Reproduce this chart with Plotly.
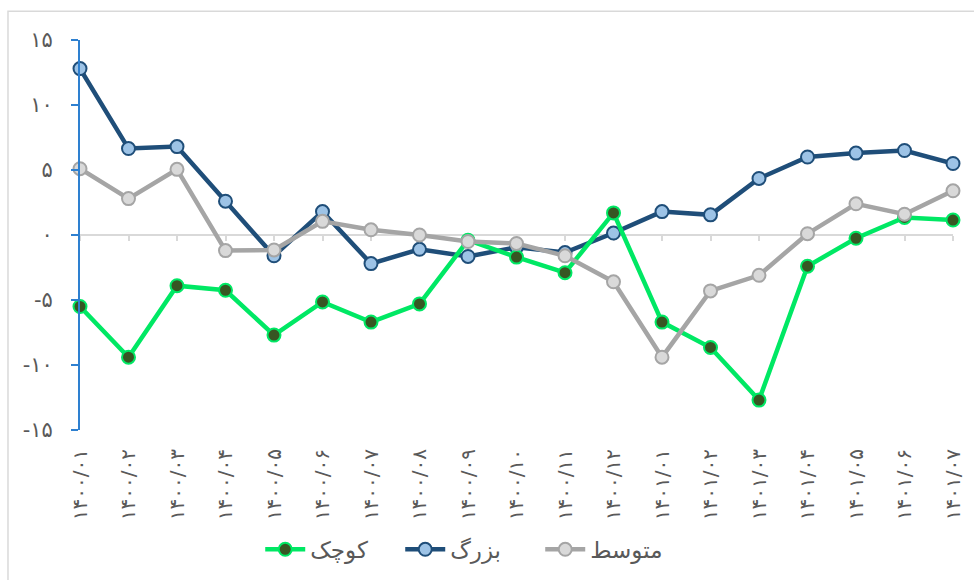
import plotly.graph_objects as go

categories = ["۱۴۰۰/۰۱", "۱۴۰۰/۰۲", "۱۴۰۰/۰۳", "۱۴۰۰/۰۴", "۱۴۰۰/۰۵", "۱۴۰۰/۰۶",
              "۱۴۰۰/۰۷", "۱۴۰۰/۰۸", "۱۴۰۰/۰۹", "۱۴۰۰/۱۰", "۱۴۰۰/۱۱", "۱۴۰۰/۱۲",
              "۱۴۰۱/۰۱", "۱۴۰۱/۰۲", "۱۴۰۱/۰۳", "۱۴۰۱/۰۴", "۱۴۰۱/۰۵", "۱۴۰۱/۰۶", "۱۴۰۱/۰۷"]

small = [-5.5, -9.4, -3.9, -4.25, -7.7, -5.15, -6.7, -5.3, -0.4, -1.7, -2.9, 1.7,
         -6.7, -8.65, -12.7, -2.4, -0.25, 1.35, 1.15]
large = [12.8, 6.65, 6.8, 2.6, -1.6, 1.8, -2.2, -1.1, -1.65, -0.95, -1.35, 0.15,
         1.8, 1.55, 4.35, 6.0, 6.3, 6.5, 5.5]
medium = [5.1, 2.8, 5.05, -1.2, -1.15, 1.05, 0.4, 0.0, -0.5, -0.65, -1.6, -3.6,
          -9.4, -4.3, -3.1, 0.1, 2.4, 1.6, 3.4]

ytick_vals = [-15, -10, -5, 0, 5, 10, 15]
ytick_text = ["-۱۵", "-۱۰", "-۵", "۰", "۵", "۱۰", "۱۵"]

names = {"small": "کوچک", "large": "بزرگ", "medium": "متوسط"}

FONT = "DejaVu Sans"
TXT = "#595959"

fig = go.Figure()

fig.add_trace(go.Scatter(
    x=categories, y=large, name=names["large"], mode="lines+markers",
    line=dict(color="#1f4e79", width=4.5),
    marker=dict(size=13, color="#9dc3e6", line=dict(color="#1f4e79", width=2)),
    cliponaxis=False, legendrank=2))
fig.add_trace(go.Scatter(
    x=categories, y=small, name=names["small"], mode="lines+markers",
    line=dict(color="#00e864", width=4.5),
    marker=dict(size=13, color="#375623", line=dict(color="#00e864", width=2)),
    cliponaxis=False, legendrank=1))
fig.add_trace(go.Scatter(
    x=categories, y=medium, name=names["medium"], mode="lines+markers",
    line=dict(color="#a5a5a5", width=4.5),
    marker=dict(size=13, color="#d9d9d9", line=dict(color="#a5a5a5", width=2)),
    cliponaxis=False, legendrank=3))
# dummy trace so the tick-only axis at zero is drawn
fig.add_trace(go.Scatter(x=categories, y=[None] * len(categories), xaxis="x2",
                         showlegend=False, hoverinfo="skip", mode="lines"))

ymin, ymax = -15, 15
fig.update_layout(
    width=974, height=580,
    margin=dict(l=80, r=9, t=40, b=148),
    paper_bgcolor="white", plot_bgcolor="white",
    font=dict(family=FONT, color=TXT, size=15),
    xaxis=dict(type="category", range=[0, len(categories) - 1],
               showline=False, showgrid=False, zeroline=False, ticks="",
               tickangle=-90, tickfont=dict(size=20, color=TXT),
               ticklabelstandoff=14),
    xaxis2=dict(type="category", overlaying="x", matches="x", anchor="free",
                position=(0 - ymin) / (ymax - ymin), showline=False,
                showgrid=False, zeroline=False, ticks="outside", ticklen=5,
                tickwidth=2, tickcolor="#d9d9d9", showticklabels=False,
                layer="below traces"),
    yaxis=dict(range=[ymin, ymax], tickvals=ytick_vals, ticktext=ytick_text,
               showgrid=False, zeroline=True, zerolinecolor="#d9d9d9",
               zerolinewidth=2, showline=True, linecolor="#2e80d0", linewidth=2,
               ticks="outside", ticklen=7, tickwidth=2, tickcolor="#2e80d0",
               tickfont=dict(size=21, color=TXT), ticklabelstandoff=14),
    legend=dict(orientation="h", x=0.447, xanchor="center", y=-0.306,
                yanchor="middle", font=dict(size=23, color=TXT),
                itemwidth=40, entrywidth=85, bgcolor="rgba(0,0,0,0)"),
    shapes=[dict(type="rect", xref="paper", yref="paper",
                 x0=(7 - 80) / 885, x1=1.1, y0=-0.5, y1=(432 - 11) / 392,
                 line=dict(color="#d9d9d9", width=1.5), layer="below")],
)

fig.write_html("out.html", post_script="document.body.style.margin='0';",
               config={"displayModeBar": False})
